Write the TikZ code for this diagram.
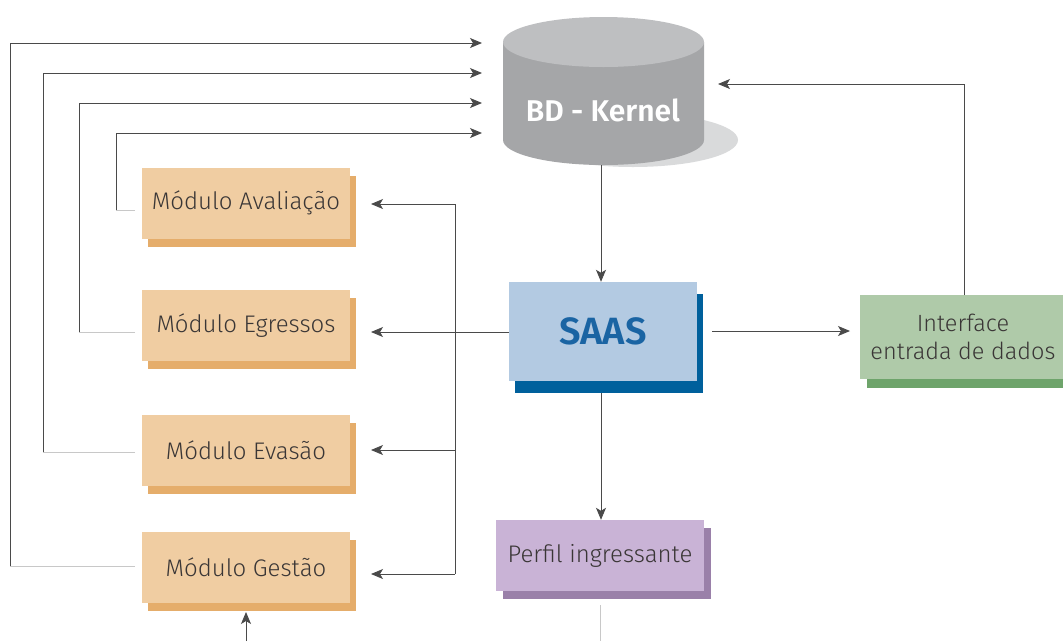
\documentclass[tikz,border=0pt]{standalone}
\usepackage{fontspec}
\setmainfont{Fira Sans Light}[BoldFont={Fira Sans SemiBold}]
\usetikzlibrary{arrows.meta,shadows}
\definecolor{modfill}{HTML}{F0CDA2}
\definecolor{modshadow}{HTML}{E5AD6B}
\definecolor{saasfill}{HTML}{B3CAE2}
\definecolor{saasshadow}{HTML}{00609C}
\definecolor{saastext}{HTML}{1A64A3}
\definecolor{intfill}{HTML}{AFCAA9}
\definecolor{intshadow}{HTML}{6EA46B}
\definecolor{perffill}{HTML}{C9B3D6}
\definecolor{perfshadow}{HTML}{9A80A9}
\definecolor{txt}{HTML}{3A3636}
\definecolor{cyltop}{HTML}{BEBFC1}
\definecolor{cylside}{HTML}{A5A6A8}
\definecolor{cylshadow}{HTML}{D9DADB}
\definecolor{linec}{HTML}{4A4A4A}
\definecolor{linelight}{HTML}{C8C8C8}
\begin{document}
\begin{tikzpicture}[x=1pt,y=-1pt,
  boxbase/.style={rectangle, inner sep=0pt, text=txt, align=center,
    font=\fontsize{24}{28}\selectfont},
  modbox/.style={boxbase, fill=modfill, minimum width=208pt, minimum height=71pt,
    general shadow={fill=modshadow, shadow xshift=6pt, shadow yshift=-8pt}},
  conn/.style={draw=linec, line width=0.9pt},
  light/.style={draw=linelight, line width=0.9pt},
  arr/.style={conn, -{Stealth[length=12pt,width=10pt,inset=3pt]}},
]
\useasboundingbox (0,0) rectangle (1063,641);

% ---- database cylinder ----
\fill[cylshadow] (633,140) ellipse [x radius=105pt, y radius=27pt];
\fill[cylside] (503,42) -- (503,140)
  arc[start angle=180, end angle=360, x radius=100.5pt, y radius=25pt]
  -- (704,42) -- cycle;
\fill[cyltop] (603.5,42) ellipse [x radius=100.5pt, y radius=25pt];
\node[font=\fontsize{30}{33}\selectfont\bfseries, text=white] (bd) at (603,110) {BD - Kernel};
\coordinate (bdbot) at (601,165);
\coordinate (bdin1) at (482,43);
\coordinate (bdin2) at (482,73);
\coordinate (bdin3) at (482,103);
\coordinate (bdin4) at (482,133);
\coordinate (bdinr) at (718,84);

% ---- nodes ----
\node[modbox] (av) at (246,203) {Módulo Avaliação};
\node[modbox] (eg) at (246,325.5) {Módulo Egressos};
\node[modbox] (ev) at (246,450.5) {Módulo Evasão};
\node[modbox] (ge) at (246,567.5) {Módulo Gestão};

\node[boxbase, fill=saasfill, minimum width=188pt, minimum height=99pt,
  text=saastext, font=\fontsize{38}{40}\selectfont\bfseries,
  general shadow={fill=saasshadow, shadow xshift=6pt, shadow yshift=-12pt}]
  (saas) at (603,331.5) {SAAS};

\node[boxbase, fill=intfill, minimum width=212pt, minimum height=84pt,
  general shadow={fill=intshadow, shadow xshift=7pt, shadow yshift=-9pt}]
  (int) at (966,337) {};
\node[boxbase, font=\fontsize{23.5}{27.5}\selectfont] (inttext) at (963,337) {Interface\\entrada de dados};

\node[boxbase, fill=perffill, minimum width=208pt, minimum height=71pt,
  general shadow={fill=perfshadow, shadow xshift=7pt, shadow yshift=-8pt}]
  (perf) at (600,555.5) {Perfil ingressante};

% ---- connectors: modules back to database ----
\coordinate (avout) at (135,210);
\coordinate (egout) at (135,332);
\coordinate (evout) at (135,452);
\coordinate (geout) at (135,566);
\draw[light] (avout) -- (116,210);
\draw[arr] (116,210) -- (116,133) -- (bdin4);
\draw[light] (egout) -- (79,332);
\draw[arr] (79,332) -- (79,103) -- (bdin3);
\draw[light] (evout) -- (43,452);
\draw[arr] (43,452) -- (43,73) -- (bdin2);
\draw[light] (geout) -- (10,566);
\draw[arr] (10,566) -- (10,43) -- (bdin1);

% ---- database to SAAS ----
\draw[arr] (bdbot) -- (bdbot |- saas.north);

% ---- SAAS to modules ----
\coordinate (avtip) at (371,204);
\coordinate (egtip) at (371,332);
\coordinate (evtip) at (371,450);
\coordinate (getip) at (371,574);
\coordinate (busT) at (455,204);
\coordinate (busB) at (455,574);
\draw[arr] (saas.west |- egtip) -- (egtip);
\draw[arr] (busT) -- (avtip);
\draw[conn] (busT) -- (busB);
\draw[arr] (455,450) -- (evtip);
\draw[arr] (busB) -- (getip);

% ---- SAAS to interface ----
\coordinate (saasr) at (712,331);
\coordinate (inttip) at (850,331);
\draw[arr] (saasr) -- (inttip);
\coordinate (inttop) at (964,295);
\draw[arr] (inttop) -- (964,84) -- (bdinr);

% ---- SAAS to profile ----
\coordinate (saasbot) at (601,393);
\draw[arr] (saasbot) -- (bdbot |- perf.north);
\coordinate (perfbot) at (600,641);
\draw[light] (600,605) -- (perfbot);

% ---- Gestao bottom ----
\coordinate (gein) at (246,641);
\draw[arr] (gein) -- (246,612);
\end{tikzpicture}
\end{document}
